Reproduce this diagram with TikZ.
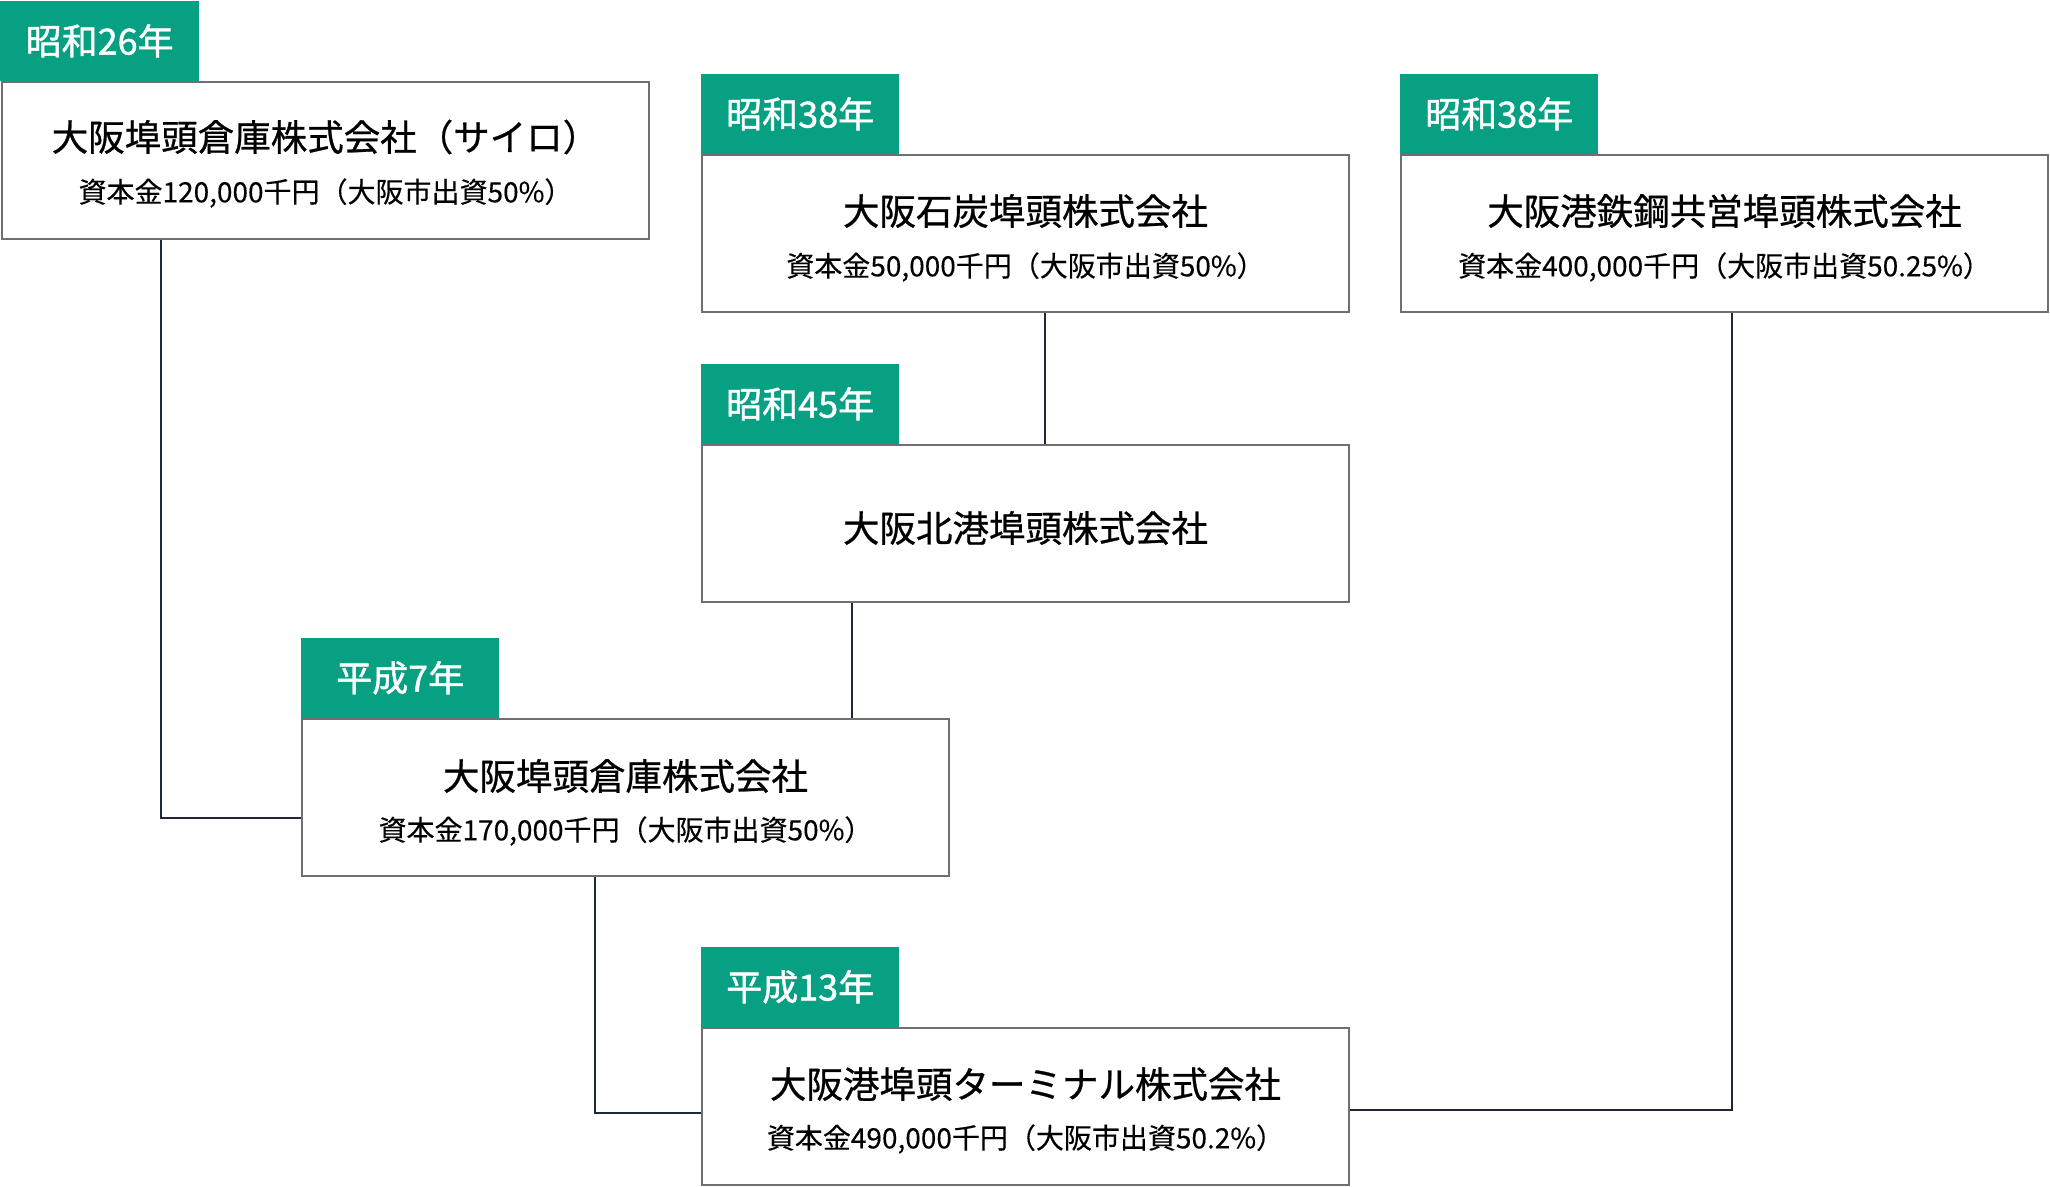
\documentclass[tikz,border=0pt]{standalone}
\usepackage{fontspec}
\setmainfont{Noto Sans CJK JP}
\newfontfamily\titlefont[FakeBold=0.7]{Noto Sans CJK JP}
\newfontfamily\tagfont[FakeBold=1.2]{Noto Sans CJK JP}
\newfontfamily\subfont[FakeBold=0.3]{Noto Sans CJK JP}
\definecolor{tagg}{HTML}{07A082}
\definecolor{boxline}{HTML}{707070}
\definecolor{conn}{HTML}{1E2838}
\begin{document}
\begin{tikzpicture}[x=1pt,y=-1pt,
 company/.style={draw=boxline, line width=2pt, fill=white, minimum width=647pt, minimum height=157pt, anchor=north west, inner sep=0pt},
 yeartag/.style={fill=tagg, text=white, minimum width=198pt, minimum height=80pt, anchor=south west, inner sep=0pt, font=\tagfont\fontsize{36}{42}\selectfont},
 ctitle/.style={font=\titlefont\fontsize{36.5}{44}\selectfont, text=black, inner sep=0pt},
 csub/.style={font=\subfont\fontsize{28}{33}\selectfont, text=black, inner sep=0pt},
 link/.style={draw=conn, line width=2pt}]
\useasboundingbox[fill=white] (0,0) rectangle (2050,1186);

% boxes
\node[company] (b1) at (1,81) {};
\node[company] (b2) at (701,154) {};
\node[company] (b3) at (1400,154) {};
\node[company] (b4) at (701,444) {};
\node[company] (b5) at (301,718) {};
\node[company] (b6) at (701,1027) {};

% tags
\node[yeartag, minimum width=199pt] (y1) at (0,81) {昭和26年};
\node[yeartag] (y2) at (b2.north west) {昭和38年};
\node[yeartag] (y3) at (b3.north west) {昭和38年};
\node[yeartag] (y4) at (b4.north west) {昭和45年};
\node[yeartag] (y5) at (b5.north west) {平成7年};
\node[yeartag] (y6) at (b6.north west) {平成13年};

% texts
\node[ctitle] (t1) at ([yshift=-56pt]b1.north) {大阪埠頭倉庫株式会社（サイロ）};
\node[csub] (s1) at ([yshift=-112pt]b1.north) {資本金120,000千円（大阪市出資50\%）};
\node[ctitle] (t2) at ([yshift=-57pt]b2.north) {大阪石炭埠頭株式会社};
\node[csub] (s2) at ([yshift=-113pt]b2.north) {資本金50,000千円（大阪市出資50\%）};
\node[ctitle] (t3) at ([yshift=-57pt]b3.north) {大阪港鉄鋼共営埠頭株式会社};
\node[csub] (s3) at ([yshift=-113pt]b3.north) {資本金400,000千円（大阪市出資50.25\%）};
\node[ctitle] (t4) at ([yshift=-4.5pt]b4.center) {大阪北港埠頭株式会社};
\node[ctitle] (t5) at ([yshift=-58pt]b5.north) {大阪埠頭倉庫株式会社};
\node[csub] (s5) at ([yshift=-113pt]b5.north) {資本金170,000千円（大阪市出資50\%）};
\node[ctitle] (t6) at ([yshift=-57pt]b6.north) {大阪港埠頭ターミナル株式会社};
\node[csub] (s6) at ([yshift=-112pt]b6.north) {資本金490,000千円（大阪市出資50.2\%）};

% connectors
\coordinate (j1) at (161,818);
\coordinate (j2) at (1045,0);
\coordinate (j3) at (852,0);
\coordinate (j4) at (595,1113);
\coordinate (j5) at (1732,1110);
\draw[link] (b1.south -| j1) -- (j1) -- (j1 -| b5.west);
\draw[link] (b2.south -| j2) -- (b4.north -| j2);
\draw[link] (b4.south -| j3) -- (b5.north -| j3);
\draw[link] (b5.south -| j4) -- (j4) -- (j4 -| b6.west);
\draw[link] (b3.south -| j5) -- (j5) -- (j5 -| b6.east);
\end{tikzpicture}
\end{document}
